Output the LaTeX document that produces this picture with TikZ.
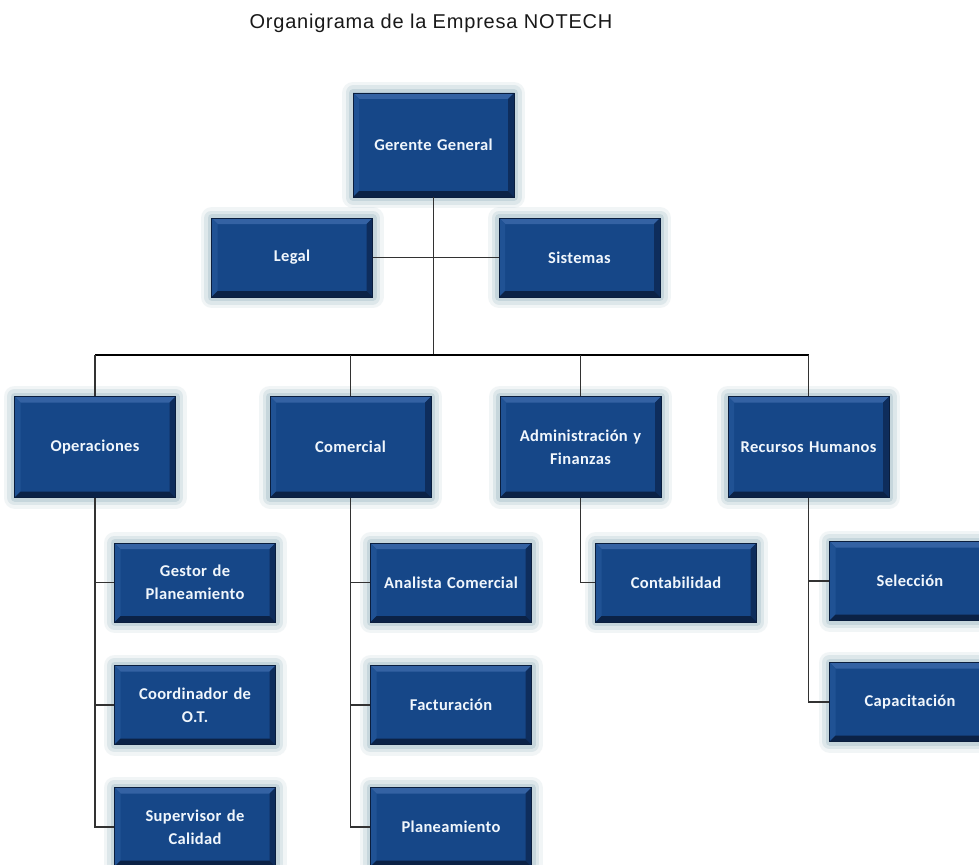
\documentclass[tikz,border=0pt]{standalone}
\usepackage{fontspec}
\newfontfamily\titlefamily[LetterSpace=4]{Liberation Sans}
\newfontfamily\boxfamily[LetterSpace=2]{Carlito}
\definecolor{boxmid}{RGB}{22,71,136}
\definecolor{bevtop}{RGB}{52,98,163}
\definecolor{bevleft}{RGB}{32,82,148}
\definecolor{bevright}{RGB}{14,45,92}
\definecolor{bevbottom}{RGB}{11,34,70}
\definecolor{boxedge}{RGB}{10,30,62}
\definecolor{glow}{RGB}{165,190,200}
\definecolor{boxtext}{RGB}{240,246,252}
\definecolor{wirecol}{RGB}{50,50,50}
\definecolor{titlecol}{RGB}{25,25,25}

\tikzset{
  orgbox/.style={rectangle, minimum width=161pt, minimum height=79pt,
    inner sep=0pt, text width=155pt, align=center,
    fill=boxmid, draw=boxedge, line width=0.6pt, text=boxtext,
    font=\boxfamily\bfseries\fontsize{16.5}{23}\selectfont,
    preaction={draw=glow, line width=22pt, line join=round, opacity=0.15},
    preaction={draw=glow, line width=15pt, line join=round, opacity=0.25},
    preaction={draw=glow, line width=8pt, line join=round, opacity=0.4},
    path picture={
      \coordinate (bNW) at (path picture bounding box.north west);
      \coordinate (bNE) at (path picture bounding box.north east);
      \coordinate (bSW) at (path picture bounding box.south west);
      \coordinate (bSE) at (path picture bounding box.south east);
      \fill[bevtop] (bNW) -- (bNE) -- ([xshift=-6pt,yshift=-6pt]bNE)
        -- ([xshift=6pt,yshift=-6pt]bNW) -- cycle;
      \fill[bevleft] (bNW) -- ([xshift=6pt,yshift=-6pt]bNW)
        -- ([xshift=6pt,yshift=6pt]bSW) -- (bSW) -- cycle;
      \fill[bevright] (bNE) -- ([xshift=-6pt,yshift=-6pt]bNE)
        -- ([xshift=-6pt,yshift=6pt]bSE) -- (bSE) -- cycle;
      \fill[bevbottom] (bSW) -- ([xshift=6pt,yshift=6pt]bSW)
        -- ([xshift=-6pt,yshift=6pt]bSE) -- (bSE) -- cycle;
    }},
  topbox/.style={orgbox, minimum height=104pt},
  deptbox/.style={orgbox, minimum height=101pt},
  wire/.style={draw=wirecol, line width=1.4pt},
  busline/.style={draw=black, line width=2pt}
}

\begin{document}
\begin{tikzpicture}[x=1pt,y=-1pt]
\useasboundingbox (0,0) rectangle (979,864);
\fill[white] (0,0) rectangle (979,864);

% title
\node[text=titlecol, font=\titlefamily\fontsize{20}{24}\selectfont] (title) at (431,23)
  {Organigrama de la Empresa NOTECH};

% management
\node[topbox] (gg) at (433.5,145) {Gerente General};
\node[orgbox] (legal) at (292,257.5) {Legal};
\node[orgbox] (sist) at (579.5,257.5) {Sistemas};

% departments
\node[deptbox] (ops) at (95,447) {Operaciones};
\node[deptbox] (com) at (350.5,447) {Comercial};
\node[deptbox] (adm) at (580.5,447) {Administración y\\Finanzas};
\node[deptbox] (rrhh) at (808.5,447) {Recursos Humanos};

% units
\node[orgbox] (gestor) at (195,582.5) {Gestor de\\Planeamiento};
\node[orgbox] (coord) at (195,705) {Coordinador de\\O.T.};
\node[orgbox] (sup) at (195,827) {Supervisor de\\Calidad};
\node[orgbox] (anal) at (451,582.5) {Analista Comercial};
\node[orgbox] (fact) at (451,705) {Facturación};
\node[orgbox] (plan) at (451,827) {Planeamiento};
\node[orgbox] (cont) at (676,582.5) {Contabilidad};
\node[orgbox] (sel) at (910,581) {Selección};
\node[orgbox] (cap) at (910,702) {Capacitación};

% connectors
\coordinate (bus) at (433.5,355);
\draw[wire] (gg.south) -- (bus);
\draw[wire] (legal.east) -- (sist.west);
\draw[busline] (ops.north |- bus) -- (rrhh.north |- bus);
\foreach \d in {ops,com,adm,rrhh}
  \draw[wire] (\d.north |- bus) -- (\d.north);

\draw[wire] (ops.south) |- (sup.west);
\draw[wire] (ops.south |- gestor.west) -- (gestor.west);
\draw[wire] (ops.south |- coord.west) -- (coord.west);

\draw[wire] (com.south) |- (plan.west);
\draw[wire] (com.south |- anal.west) -- (anal.west);
\draw[wire] (com.south |- fact.west) -- (fact.west);

\draw[wire] (adm.south) |- (cont.west);

\draw[wire] (rrhh.south) |- (cap.west);
\draw[wire] (rrhh.south |- sel.west) -- (sel.west);
\end{tikzpicture}
\end{document}
